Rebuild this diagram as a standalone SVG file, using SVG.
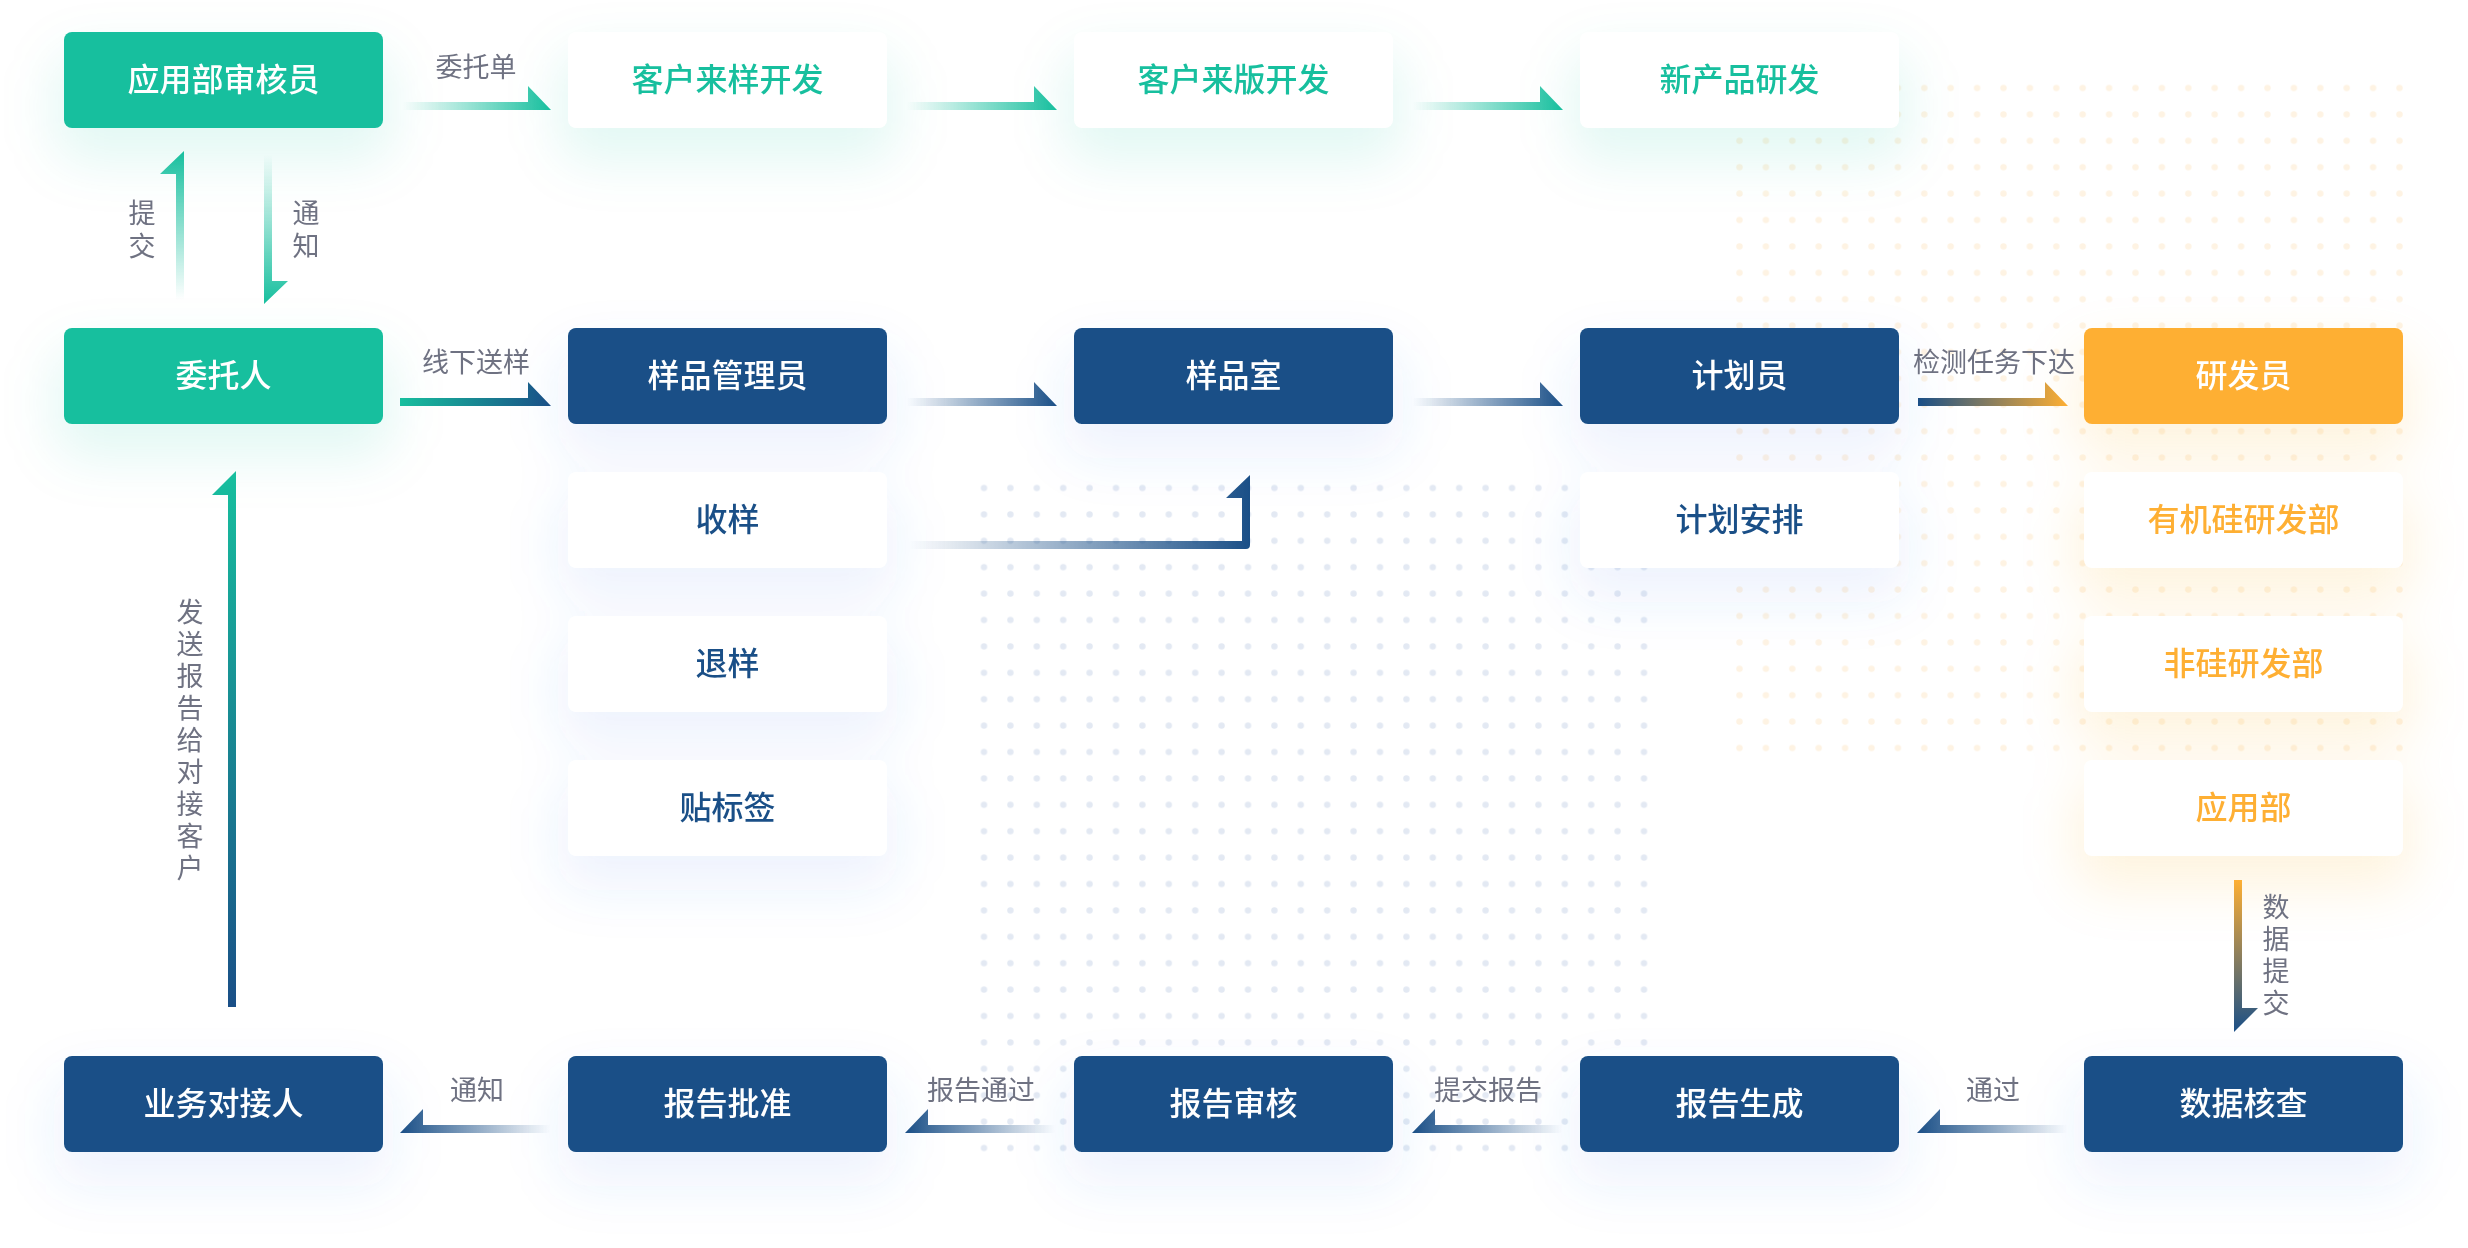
<svg xmlns="http://www.w3.org/2000/svg" width="2468" height="1248" viewBox="0 0 2468 1248">
<defs>
<style>
.t{font-family:"Noto Sans CJK SC","Noto Sans",sans-serif;text-anchor:middle}
.bt{font-size:32px;font-weight:500}
.lb{font-size:27px;fill:#6F7282}
.vt{font-family:"Noto Sans CJK SC","Noto Sans",sans-serif;font-size:27px;fill:#6F7282;writing-mode:vertical-rl;text-orientation:upright}
.tw{fill:#fff}.tg{fill:#17BF9E}.tb{fill:#1A4F87}.to{fill:#FEAF33}
.fg{fill:#17BF9E}.fb{fill:#1A4F87}.fo{fill:#FEAF33}.fw{fill:#fff}
.sg{fill:#17BF9E;opacity:.11}.sb{fill:#3B74E6;opacity:.085}.so{fill:#F5A623;opacity:.12}
.sh{filter:url(#blur)}
</style>
<filter id="blur" x="-50%" y="-50%" width="200%" height="200%"><feGaussianBlur stdDeviation="26"/></filter>
<linearGradient id="gHr"><stop offset="0" stop-color="#17BF9E" stop-opacity="0"/><stop offset="1" stop-color="#17BF9E"/></linearGradient>
<linearGradient id="bHr"><stop offset="0" stop-color="#1A4F87" stop-opacity="0"/><stop offset="1" stop-color="#1A4F87"/></linearGradient>
<linearGradient id="bHl"><stop offset="0" stop-color="#1A4F87"/><stop offset="1" stop-color="#1A4F87" stop-opacity="0"/></linearGradient>
<linearGradient id="gbH"><stop offset="0" stop-color="#17BF9E"/><stop offset="1" stop-color="#1A4F87"/></linearGradient>
<linearGradient id="boH"><stop offset="0" stop-color="#1A4F87"/><stop offset="1" stop-color="#FEAF33"/></linearGradient>
<linearGradient id="gUp" x1="0" y1="0" x2="0" y2="1"><stop offset="0" stop-color="#17BF9E"/><stop offset="1" stop-color="#17BF9E" stop-opacity="0"/></linearGradient>
<linearGradient id="gDn" x1="0" y1="0" x2="0" y2="1"><stop offset="0" stop-color="#17BF9E" stop-opacity="0"/><stop offset="1" stop-color="#17BF9E"/></linearGradient>
<linearGradient id="gbV" x1="0" y1="0" x2="0" y2="1"><stop offset="0" stop-color="#17BF9E"/><stop offset="1" stop-color="#1A4F87"/></linearGradient>
<linearGradient id="obV" x1="0" y1="0" x2="0" y2="1"><stop offset="0" stop-color="#FEAF33"/><stop offset="1" stop-color="#1A4F87"/></linearGradient>
<pattern id="dotB" x="970.8" y="474.8" width="26.4" height="26.4" patternUnits="userSpaceOnUse"><circle cx="13.2" cy="13.2" r="3.2" fill="#E3E9F3"/></pattern>
<pattern id="dotO" x="1726.3" y="74.8" width="26.4" height="26.4" patternUnits="userSpaceOnUse"><circle cx="13.2" cy="13.2" r="3.2" fill="#FEF3E3"/></pattern>
</defs>
<rect width="2468" height="1248" fill="#fff"/>
<g id="dots">
<rect x="970.8" y="474.8" width="686.4" height="686.4" fill="url(#dotB)"/>
<rect x="1726.3" y="74.8" width="686.4" height="686.4" fill="url(#dotO)"/>
</g>
<g id="shadows" class="sh">
<rect class="sg" x="54" y="52" width="339" height="110" rx="30"/>
<rect class="sg" x="558" y="52" width="339" height="110" rx="30"/>
<rect class="sg" x="1064" y="52" width="339" height="110" rx="30"/>
<rect class="sg" x="1570" y="52" width="339" height="110" rx="30"/>
<rect class="sg" x="54" y="348" width="339" height="110" rx="30"/>
<rect class="sb" x="558" y="348" width="339" height="110" rx="30"/>
<rect class="sb" x="1064" y="348" width="339" height="110" rx="30"/>
<rect class="sb" x="1570" y="348" width="339" height="110" rx="30"/>
<rect class="so" x="2074" y="348" width="339" height="110" rx="30"/>
<rect class="sb" x="558" y="492" width="339" height="110" rx="30"/>
<rect class="sb" x="1570" y="492" width="339" height="110" rx="30"/>
<rect class="so" x="2074" y="492" width="339" height="110" rx="30"/>
<rect class="sb" x="558" y="636" width="339" height="110" rx="30"/>
<rect class="so" x="2074" y="636" width="339" height="110" rx="30"/>
<rect class="sb" x="558" y="780" width="339" height="110" rx="30"/>
<rect class="so" x="2074" y="780" width="339" height="110" rx="30"/>
<rect class="sb" x="54" y="1076" width="339" height="110" rx="30"/>
<rect class="sb" x="558" y="1076" width="339" height="110" rx="30"/>
<rect class="sb" x="1064" y="1076" width="339" height="110" rx="30"/>
<rect class="sb" x="1570" y="1076" width="339" height="110" rx="30"/>
<rect class="sb" x="2074" y="1076" width="339" height="110" rx="30"/>
</g>
<g id="connectors" stroke-linejoin="round">
<path d="M403 102H528V86L551 110H403Z" fill="url(#gHr)"/>
<path d="M907 102H1034V86L1057 110H907Z" fill="url(#gHr)"/>
<path d="M1413 102H1540V86L1563 110H1413Z" fill="url(#gHr)"/>
<path d="M400 398H528V382L551 406H400Z" fill="url(#gbH)"/>
<path d="M907 398H1034V382L1057 406H907Z" fill="url(#bHr)"/>
<path d="M1413 398H1540V382L1563 406H1413Z" fill="url(#bHr)"/>
<path d="M1918 398H2045V382L2068 406H1918Z" fill="url(#boH)"/>
<path d="M909 541H1242V498H1226L1250 475V545Q1250 549 1246 549H909Z" fill="url(#bHr)"/>
<path d="M550 1125H423V1109L400 1133H550Z" fill="url(#bHl)"/>
<path d="M1055 1125H928V1109L905 1133H1055Z" fill="url(#bHl)"/>
<path d="M1562 1125H1435V1109L1412 1133H1562Z" fill="url(#bHl)"/>
<path d="M2067 1125H1940V1109L1917 1133H2067Z" fill="url(#bHl)"/>
<path d="M176 300V174H160L184 151V300Z" fill="url(#gUp)"/>
<path d="M264 155H272V281H288L264 304Z" fill="url(#gDn)"/>
<path d="M228 1007V495H212L236 471V1007Z" fill="url(#gbV)"/>
<path d="M2234 880H2242V1008H2258L2234 1032Z" fill="url(#obV)"/>
<g class="t lb">
<text x="476" y="77">委托单</text>
<text x="476" y="372">线下送样</text>
<text x="1994" y="372">检测任务下达</text>
<text x="477" y="1100">通知</text>
<text x="981" y="1100">报告通过</text>
<text x="1488" y="1100">提交报告</text>
<text x="1993" y="1100">通过</text>
</g>
<text class="vt" x="142" y="199" letter-spacing="6">提交</text>
<text class="vt" x="306" y="199" letter-spacing="6">通知</text>
<text class="vt" x="190" y="598" letter-spacing="5">发送报告给对接客户</text>
<text class="vt" x="2276" y="893" letter-spacing="5">数据提交</text>
</g>
<g id="n-yybshy"><rect class="fg" x="64" y="32" width="319" height="96" rx="8"/><text class="t bt tw" x="223.5" y="91">应用部审核员</text></g>
<g id="n-khlyk"><rect class="fw" x="568" y="32" width="319" height="96" rx="8"/><text class="t bt tg" x="727.5" y="91">客户来样开发</text></g>
<g id="n-khlbk"><rect class="fw" x="1074" y="32" width="319" height="96" rx="8"/><text class="t bt tg" x="1233.5" y="91">客户来版开发</text></g>
<g id="n-xcpyf"><rect class="fw" x="1580" y="32" width="319" height="96" rx="8"/><text class="t bt tg" x="1739.5" y="91">新产品研发</text></g>
<g id="n-wtr"><rect class="fg" x="64" y="328" width="319" height="96" rx="8"/><text class="t bt tw" x="223.5" y="387">委托人</text></g>
<g id="n-ypgly"><rect class="fb" x="568" y="328" width="319" height="96" rx="8"/><text class="t bt tw" x="727.5" y="387">样品管理员</text></g>
<g id="n-yps"><rect class="fb" x="1074" y="328" width="319" height="96" rx="8"/><text class="t bt tw" x="1233.5" y="387">样品室</text></g>
<g id="n-jhy"><rect class="fb" x="1580" y="328" width="319" height="96" rx="8"/><text class="t bt tw" x="1739.5" y="387">计划员</text></g>
<g id="n-yfy"><rect class="fo" x="2084" y="328" width="319" height="96" rx="8"/><text class="t bt tw" x="2243.5" y="387">研发员</text></g>
<g id="n-sy"><rect class="fw" x="568" y="472" width="319" height="96" rx="8"/><text class="t bt tb" x="727.5" y="531">收样</text></g>
<g id="n-jhap"><rect class="fw" x="1580" y="472" width="319" height="96" rx="8"/><text class="t bt tb" x="1739.5" y="531">计划安排</text></g>
<g id="n-yjg"><rect class="fw" x="2084" y="472" width="319" height="96" rx="8"/><text class="t bt to" x="2243.5" y="531">有机硅研发部</text></g>
<g id="n-ty"><rect class="fw" x="568" y="616" width="319" height="96" rx="8"/><text class="t bt tb" x="727.5" y="675">退样</text></g>
<g id="n-fg"><rect class="fw" x="2084" y="616" width="319" height="96" rx="8"/><text class="t bt to" x="2243.5" y="675">非硅研发部</text></g>
<g id="n-tbq"><rect class="fw" x="568" y="760" width="319" height="96" rx="8"/><text class="t bt tb" x="727.5" y="819">贴标签</text></g>
<g id="n-yyb"><rect class="fw" x="2084" y="760" width="319" height="96" rx="8"/><text class="t bt to" x="2243.5" y="819">应用部</text></g>
<g id="n-ywdjr"><rect class="fb" x="64" y="1056" width="319" height="96" rx="8"/><text class="t bt tw" x="223.5" y="1115">业务对接人</text></g>
<g id="n-bgpz"><rect class="fb" x="568" y="1056" width="319" height="96" rx="8"/><text class="t bt tw" x="727.5" y="1115">报告批准</text></g>
<g id="n-bgsh"><rect class="fb" x="1074" y="1056" width="319" height="96" rx="8"/><text class="t bt tw" x="1233.5" y="1115">报告审核</text></g>
<g id="n-bgsc"><rect class="fb" x="1580" y="1056" width="319" height="96" rx="8"/><text class="t bt tw" x="1739.5" y="1115">报告生成</text></g>
<g id="n-sjhc"><rect class="fb" x="2084" y="1056" width="319" height="96" rx="8"/><text class="t bt tw" x="2243.5" y="1115">数据核查</text></g>
</svg>
